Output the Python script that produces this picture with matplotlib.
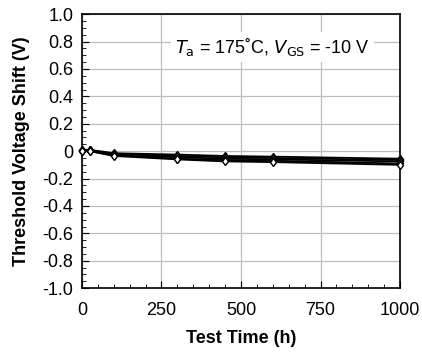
import matplotlib
matplotlib.use('Agg')
import matplotlib.pyplot as plt
from matplotlib.ticker import MultipleLocator
import numpy as np

plt.rcParams['font.family'] = ['Liberation Sans', 'DejaVu Sans']

# test time (h) and threshold voltage shift (V) for each device
test_time = [0, 25, 100, 300, 450, 600, 1000]
shift_1 = [0.01, 0.010, -0.015, -0.025, -0.035, -0.040, -0.055]
shift_2 = [0.00, 0.005, -0.020, -0.035, -0.045, -0.050, -0.065]
shift_3 = [0.01, 0.005, -0.025, -0.045, -0.055, -0.060, -0.075]
shift_4 = [0.00, 0.000, -0.030, -0.055, -0.065, -0.070, -0.090]
shift_5 = [0.00, 0.000, -0.035, -0.060, -0.075, -0.080, -0.100]
all_shifts = [shift_1, shift_2, shift_3, shift_4, shift_5]

x_ticks = [0, 250, 500, 750, 1000]
y_ticks = np.round(np.arange(-1.0, 1.01, 0.2), 1)

fig, ax = plt.subplots(figsize=(4.22, 3.54), dpi=100)
fig.subplots_adjust(left=0.194, right=0.948, top=0.960, bottom=0.186)

for s in all_shifts:
    ax.plot(test_time, s, color='black', lw=1.3, marker='d', ms=4.5,
            mfc='white', mec='black', mew=1.0, zorder=3, clip_on=False)

ax.set_xlim(0, 1000)
ax.set_ylim(-1.0, 1.0)
ax.set_xticks(x_ticks)
ax.set_yticks(y_ticks)
ax.set_yticklabels(['0' if v == 0 else f'{v:.1f}' for v in y_ticks])
ax.xaxis.set_minor_locator(MultipleLocator(50))
ax.yaxis.set_minor_locator(MultipleLocator(0.05))
ax.tick_params(which='both', direction='in', labelsize=13, color='black')
ax.tick_params(which='major', length=5, pad=6)
ax.tick_params(axis='x', which='major', pad=10)
ax.tick_params(which='minor', length=3)
ax.tick_params(axis='y', which='both', right=False)
ax.grid(True, which='major', color='#bdbdbd', lw=0.9)
ax.set_axisbelow(True)
for sp in ax.spines.values():
    sp.set_linewidth(1.2)

ax.set_xlabel('Test Time (h)', fontsize=13, fontweight='bold', labelpad=8)
ax.set_ylabel('Threshold Voltage Shift (V)', fontsize=13, fontweight='bold', labelpad=9)

ax.text(0.60, 0.88, r'$T_\mathrm{a}$ = 175˚C, $V_\mathrm{GS}$ = -10 V',
        transform=ax.transAxes, ha='center', va='center', fontsize=13,
        bbox=dict(facecolor='white', edgecolor='none', pad=3))

plt.savefig('out.png', dpi=100)
